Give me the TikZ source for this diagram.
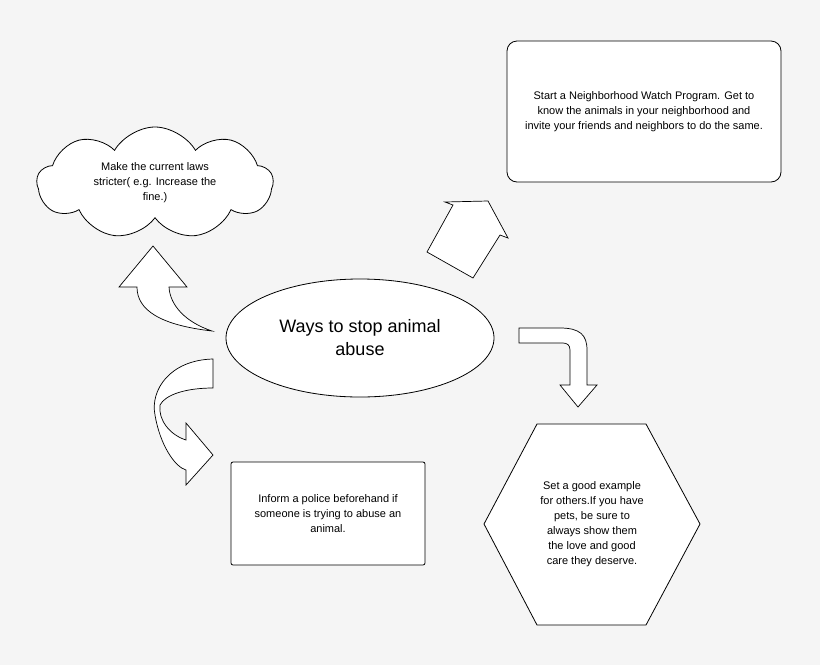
\documentclass[tikz,border=0pt]{standalone}
\usepackage{fontspec}
\setmainfont{Liberation Sans}
\usetikzlibrary{shapes.geometric, shapes.symbols}
\definecolor{bgcolor}{RGB}{245,245,245}

\begin{document}
\begin{tikzpicture}[
    x=1pt, y=-1pt,
    box/.style={draw, line width=0.8pt, fill=white, align=center, font=\fontsize{11}{15}\selectfont},
    bigarrow/.style={draw, line width=0.7pt, fill=white}
]
    % Fond
    \fill[bgcolor] (0,0) rectangle (820,665);
    \useasboundingbox (0,0) rectangle (820,665);

    % Centre
    \node[draw, ellipse, line width=0.8pt, fill=white, minimum width=268pt, minimum height=118pt, align=center, font=\fontsize{18}{23}\selectfont] (center) at (360,338) {Ways to stop animal\\abuse};

    % Nuage
    \node[box, cloud, cloud puffs=9, cloud puff arc=120, aspect=2.2, minimum width=236pt, minimum height=112pt, inner sep=0pt] (laws) at (155,183) {Make the current laws\\stricter( e.g. Increase the\\fine.)};

    % Boite en haut a droite
    \node[box, rounded corners=10pt, minimum width=274pt, minimum height=141pt] (watch) at (644,111.5) {Start a Neighborhood Watch Program. Get to\\know the animals in your neighborhood and\\invite your friends and neighbors to do the same.};

    % Boite en bas
    \node[box, rounded corners=2pt, minimum width=194pt, minimum height=103pt] (police) at (328,513.5) {Inform a police beforehand if\\someone is trying to abuse an\\animal.};

    % Hexagone
    \draw[bigarrow, line width=0.8pt] (484,524) -- (537,424) -- (646,424) -- (700,524) -- (646,625) -- (537,625) -- cycle;
    \node[align=center, font=\fontsize{11}{15}\selectfont] (example) at (592,524) {Set a good example\\for others.If you have\\pets, be sure to\\always show them\\the love and good\\care they deserve.};

    % Fleches
    \draw[bigarrow] (212,331) .. controls (160,325) and (137,310) .. (137,287) -- (119,287) -- (153,246) -- (187,287) -- (169,287) .. controls (170,305) and (185,322) .. (212,331) -- cycle;
    \draw[bigarrow] (213,359) .. controls (170,360) and (150,390) .. (155,415) .. controls (160,445) and (175,467) .. (186,470) -- (186,485) -- (213,455) -- (186,423) -- (186,440) .. controls (170,435) and (158,420) .. (160,405) .. controls (165,395) and (185,388) .. (213,388) -- cycle;
    \draw[bigarrow] (445,202) -- (488,201) -- (508,238) -- (500,235) -- (473,278) -- (427,252) -- (453,205) -- cycle;
    \draw[bigarrow] (519,328) -- (560,328) .. controls (580,328) and (587,335) .. (587,350) -- (587,385) -- (597,385) -- (578,407) -- (560,385) -- (570,385) -- (570,350) .. controls (570,345) and (567,343) .. (563,343) -- (519,343) -- cycle;
\end{tikzpicture}
\end{document}
